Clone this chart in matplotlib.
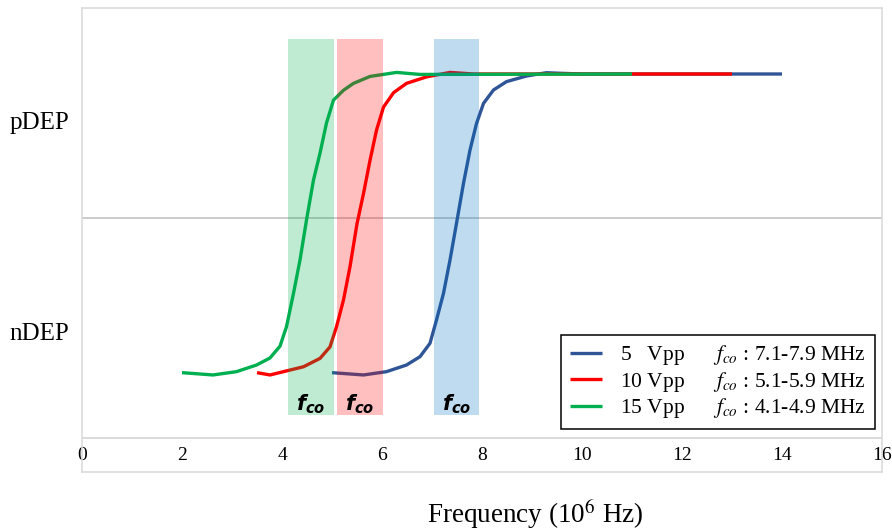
import matplotlib
matplotlib.use("Agg")
import matplotlib.pyplot as plt

plt.rcParams['font.family'] = ['Liberation Serif', 'DejaVu Serif']
plt.rcParams['mathtext.fontset'] = 'stix'

# curves (x in MHz, y: 0 = crossover, +1 = pDEP plateau)
x_5vpp = [5.0, 5.63, 6.09, 6.49, 6.76, 6.96, 7.09, 7.23, 7.36, 7.49, 7.63, 7.76,
          7.89, 8.03, 8.23, 8.49, 8.89, 9.29, 9.56, 10.0, 14.0]
y_5vpp = [-1.074, -1.090, -1.067, -1.021, -0.963, -0.870, -0.708, -0.523, -0.292,
          -0.037, 0.241, 0.472, 0.656, 0.796, 0.889, 0.947, 0.986, 1.009, 1.005,
          1.0, 1.0]

x_10vpp = [3.5, 3.76, 4.03, 4.43, 4.76, 4.96, 5.09, 5.23, 5.36, 5.50, 5.63, 5.76,
           5.89, 6.03, 6.23, 6.49, 6.89, 7.36, 7.83, 13.0]
y_10vpp = [-1.074, -1.090, -1.067, -1.033, -0.975, -0.895, -0.755, -0.569, -0.338,
           -0.04, 0.17, 0.40, 0.61, 0.77, 0.87, 0.935, 0.98, 1.011, 1.0, 1.0]

x_15vpp = [2.0, 2.62, 3.09, 3.49, 3.76, 3.96, 4.09, 4.23, 4.36, 4.49, 4.63, 4.76,
           4.89, 5.03, 5.23, 5.43, 5.76, 6.29, 6.76, 11.0]
y_15vpp = [-1.074, -1.090, -1.067, -1.021, -0.972, -0.890, -0.755, -0.523, -0.292,
           -0.014, 0.264, 0.45, 0.66, 0.819, 0.887, 0.935, 0.983, 1.011, 0.997, 1.0]

labels = ['5   Vpp      $f_{co}$ : 7.1-7.9 MHz',
          '10 Vpp      $f_{co}$ : 5.1-5.9 MHz',
          '15 Vpp      $f_{co}$ : 4.1-4.9 MHz']
colors = ['#2f5597', '#ff0000', '#00b050']

# crossover bands
band_lo = [7.03, 5.09, 4.11]
band_hi = [7.94, 6.01, 5.03]
band_colors = ['#0070c0', '#ff0000', '#00b050']

x_ticks = [0, 2, 4, 6, 8, 10, 12, 14, 16]
y_ticks = [0.68, -0.79]
y_ticklabels = ['pDEP', 'nDEP']

fig = plt.figure(figsize=(8.92, 5.32), dpi=100)
ax = fig.add_axes([82 / 892, 1 - 471.5 / 532, 800 / 892, 463.5 / 532])

ax.axhline(0, color='#bfbfbf', lw=1.1, zorder=1)
ax.axhline(-1.531, color='#d0d0d0', lw=1.1, zorder=1)

series = [(x_5vpp, y_5vpp), (x_10vpp, y_10vpp), (x_15vpp, y_15vpp)]
for (xs, ys), c, lab in zip(series, colors, labels):
    ax.plot(xs, ys, color=c, lw=2.4, label=lab, solid_joinstyle='round',
            solid_capstyle='butt', zorder=2)

for lo, hi, c in zip(band_lo, band_hi, band_colors):
    ax.bar(lo, 2.609, width=hi - lo, bottom=-1.368, align='edge', color=c,
           alpha=0.25, lw=0, zorder=3)
    ax.text((lo + hi) / 2, -1.29, r'$\mathbfit{f}_{\mathbfit{co}}$',
            math_fontfamily='dejavusans', ha='center', va='center',
            fontsize=15, zorder=4)

ax.set_xlim(0, 16)
ax.set_ylim(-1.7604, 1.4583)
ax.set_xticks(x_ticks)
ax.set_yticks(y_ticks)
ax.set_yticklabels(y_ticklabels)
ax.tick_params(axis='x', length=0, pad=-18, labelsize=14)
ax.tick_params(axis='y', length=0, pad=9, labelsize=18)
for sp in ax.spines.values():
    sp.set_color('#d9d9d9')
    sp.set_linewidth(1.1)

leg = ax.legend(loc='lower right', bbox_to_anchor=(875 / 892, 1 - 429 / 532),
                bbox_transform=fig.transFigure, fontsize=15.5, frameon=True,
                fancybox=False, edgecolor='black', framealpha=1,
                handlelength=1.5, handletextpad=0.85, labelspacing=0.12,
                borderpad=0.4, borderaxespad=0)
leg.get_frame().set_linewidth(1.1)
leg.set_zorder(5)

fig.text(535 / 892, 1 - 514 / 532, 'Frequency (10$^{6}$ Hz)', ha='center',
         va='center', fontsize=19.5)

fig.savefig('out.png', dpi=100)
